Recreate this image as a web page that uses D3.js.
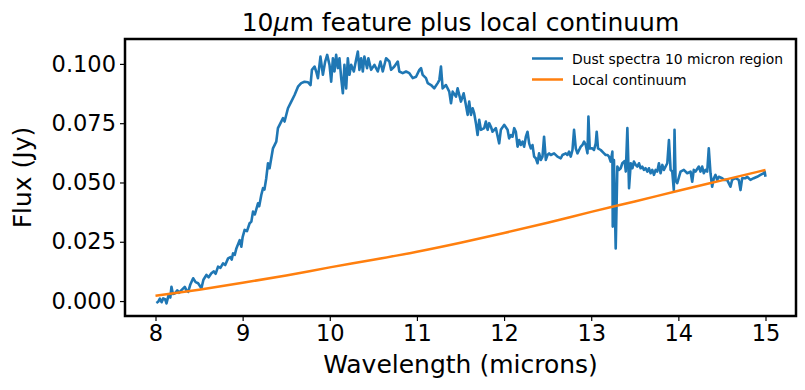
<!DOCTYPE html>
<html>
<head>
<meta charset="utf-8">
<script src="https://cdn.jsdelivr.net/npm/d3@7"></script>
<style>
  html, body { margin: 0; padding: 0; background: #fff; }
  svg { display: block; font-family: "DejaVu Sans", sans-serif; }
</style>
</head>
<body>
<svg id="chart" width="805" height="390"></svg>
<script>
// ---- Data ----
const xTicks = [8, 9, 10, 11, 12, 13, 14, 15];
const yTicks = [0.000, 0.025, 0.050, 0.075, 0.100];

const dustWavelength = [
  8.01, 8.03, 8.05, 8.07, 8.088, 8.11, 8.126, 8.15, 8.17, 8.183, 8.20, 8.221, 8.25, 8.27, 8.298, 8.336, 8.355, 8.375,
  8.40, 8.432, 8.46, 8.489, 8.527, 8.55, 8.584, 8.61, 8.641, 8.67, 8.69, 8.718, 8.745, 8.775, 8.80, 8.833, 8.86, 8.875,
  8.890, 8.91, 8.928, 8.966, 8.985, 9.00, 9.023, 9.05, 9.080, 9.10, 9.119, 9.14, 9.176, 9.19, 9.214, 9.234, 9.25, 9.271,
  9.291, 9.309, 9.348, 9.386, 9.405, 9.424, 9.463, 9.481, 9.520, 9.558, 9.596, 9.635, 9.672, 9.710, 9.749, 9.779,
  9.795, 9.825, 9.844, 9.864, 9.893, 9.921, 9.947, 9.970, 9.997, 10.016, 10.036, 10.054, 10.073, 10.093, 10.111,
  10.131, 10.150, 10.168, 10.188, 10.207, 10.226, 10.245, 10.276, 10.302, 10.322, 10.340, 10.360, 10.379, 10.397,
  10.428, 10.443, 10.474, 10.512, 10.551, 10.581, 10.608, 10.646, 10.684, 10.703, 10.741, 10.780, 10.798, 10.837,
  10.875, 10.913, 10.952, 10.990, 11.028, 11.047, 11.066, 11.104, 11.124, 11.162, 11.199, 11.238, 11.257, 11.276,
  11.295, 11.333, 11.371, 11.391, 11.410, 11.448, 11.467, 11.505, 11.536, 11.562, 11.582, 11.600, 11.620, 11.639,
  11.657, 11.677, 11.696, 11.715, 11.734, 11.772, 11.791, 11.811, 11.829, 11.849, 11.868, 11.906, 11.944, 11.963,
  12.001, 12.040, 12.058, 12.078, 12.097, 12.116, 12.135, 12.155, 12.173, 12.192, 12.212, 12.230, 12.250, 12.269,
  12.288, 12.307, 12.326, 12.345, 12.364, 12.384, 12.402, 12.422, 12.441, 12.459, 12.479, 12.498, 12.517, 12.536,
  12.574, 12.613, 12.651, 12.670, 12.708, 12.727, 12.746, 12.765, 12.785, 12.803, 12.823, 12.842, 12.861, 12.880,
  12.899, 12.918, 12.937, 12.957, 12.968, 12.983, 13.014, 13.032, 13.052, 13.063, 13.078, 13.109, 13.147, 13.166,
  13.186, 13.204, 13.223, 13.243, 13.247, 13.261, 13.281, 13.300, 13.319, 13.338, 13.357, 13.376, 13.384, 13.397,
  13.415, 13.434, 13.454, 13.473, 13.490, 13.510, 13.529, 13.548, 13.567, 13.586, 13.605, 13.624, 13.644, 13.662,
  13.682, 13.701, 13.720, 13.739, 13.758, 13.777, 13.796, 13.816, 13.834, 13.873, 13.892, 13.911, 13.930, 13.948,
  13.956, 13.968, 13.987, 14.025, 14.063, 14.102, 14.140, 14.159, 14.177, 14.197, 14.235, 14.254, 14.273, 14.292,
  14.312, 14.331, 14.349, 14.369, 14.388, 14.407, 14.426, 14.445, 14.464, 14.503, 14.521, 14.560, 14.598, 14.617,
  14.655, 14.693, 14.713, 14.732, 14.770, 14.789, 14.827, 14.865, 14.904, 14.942, 14.980, 14.99, 15.00
];
const dustFlux = [
  -0.0008, -0.0003, 0.0010, -0.0005, 0.0011, 0.0008, -0.0010, 0.0025, 0.0015, 0.0060, 0.0030, 0.0032, 0.0045, 0.0035, 0.0046, 0.0060, 0.0045, 0.0039,
  0.0070, 0.0096, 0.0080, 0.0075, 0.0054, 0.0090, 0.0110, 0.0100, 0.0117, 0.0125, 0.0115, 0.0145, 0.0140, 0.0159, 0.0152, 0.0180, 0.0185, 0.0175,
  0.0201, 0.0195, 0.0222, 0.0257, 0.0229, 0.0270, 0.0300, 0.0295, 0.0328, 0.0335, 0.0377, 0.0365, 0.0412, 0.0400, 0.0447, 0.0476, 0.0470, 0.0518,
  0.0581, 0.0560, 0.0644, 0.0672, 0.0729, 0.0743, 0.0771, 0.0757, 0.0813, 0.0841, 0.0869, 0.0904, 0.0919, 0.0925, 0.0923, 0.0911,
  0.0975, 0.0989, 0.0968, 0.0940, 0.1031, 0.0954, 0.1010, 0.1038, 0.0996, 0.0925, 0.1024, 0.0968, 0.1038, 0.0982, 0.1024,
  0.0940, 0.0876, 0.0996, 0.0897, 0.1024, 0.0954, 0.0996, 0.0968, 0.1017, 0.1052, 0.0975, 0.1024, 0.0968, 0.1031,
  0.0982, 0.1024, 0.0975, 0.0996, 0.0968, 0.1010, 0.0968, 0.1024, 0.1010, 0.0975, 0.0989, 0.1010, 0.0968, 0.0961,
  0.0968, 0.0961, 0.0940, 0.0946, 0.0975, 0.0982, 0.0954, 0.0940, 0.0919, 0.0911, 0.0897, 0.0919, 0.0932, 0.0989,
  0.0897, 0.0911, 0.0883, 0.0834, 0.0883, 0.0862, 0.0897, 0.0841, 0.0876, 0.0827, 0.0785, 0.0841, 0.0785, 0.0813,
  0.0792, 0.0750, 0.0700, 0.0764, 0.0722, 0.0729, 0.0757, 0.0722, 0.0750, 0.0735, 0.0714, 0.0729, 0.0665, 0.0722,
  0.0743, 0.0722, 0.0686, 0.0700, 0.0693, 0.0729, 0.0714, 0.0651, 0.0679, 0.0658, 0.0672, 0.0651, 0.0693, 0.0714,
  0.0665, 0.0644, 0.0658, 0.0609, 0.0602, 0.0581, 0.0623, 0.0595, 0.0609, 0.0693, 0.0595, 0.0616, 0.0623, 0.0616,
  0.0623, 0.0609, 0.0602, 0.0616, 0.0623, 0.0616, 0.0630, 0.0609, 0.0637, 0.0722, 0.0644, 0.0623, 0.0637, 0.0651,
  0.0658, 0.0672, 0.0658, 0.0623, 0.0778, 0.0644, 0.0644, 0.0637, 0.0665, 0.0714, 0.0644, 0.0637, 0.0623, 0.0616,
  0.0616, 0.0609, 0.0588, 0.0630, 0.0314, 0.0595, 0.0222, 0.0567, 0.0553, 0.0560, 0.0581, 0.0588, 0.0590, 0.0546,
  0.0729, 0.0476, 0.0581, 0.0560, 0.0588, 0.0574, 0.0567, 0.0581, 0.0560, 0.0567, 0.0553, 0.0560, 0.0546, 0.0560,
  0.0539, 0.0553, 0.0532, 0.0553, 0.0546, 0.0581, 0.0539, 0.0574, 0.0553, 0.0581, 0.0679, 0.0553, 0.0546, 0.0468,
  0.0722, 0.0511, 0.0497, 0.0546, 0.0553, 0.0539, 0.0546, 0.0503, 0.0553, 0.0546, 0.0567, 0.0546, 0.0567, 0.0539,
  0.0553, 0.0546, 0.0644, 0.0539, 0.0482, 0.0518, 0.0532, 0.0511, 0.0524, 0.0518, 0.0511, 0.0511, 0.0482, 0.0511,
  0.0518, 0.0511, 0.0468, 0.0518, 0.0518, 0.0524, 0.0511, 0.0518, 0.0524, 0.0532, 0.0539, 0.0546, 0.0524
];

const contWavelength = [8.0, 8.5, 9.0, 9.5, 10.0, 10.5, 11.0, 11.5, 12.0, 12.5, 13.0, 13.5, 14.0, 14.5, 15.0];
const contFlux = [0.0022, 0.0048, 0.0077, 0.0108, 0.0142, 0.0174, 0.0208, 0.0246, 0.0287, 0.0330, 0.0376, 0.0420, 0.0465, 0.0509, 0.0553];

const seriesNames = ["Dust spectra 10 micron region", "Local continuum"];
const seriesColors = ["#1f77b4", "#ff7f0e"];

// ---- Layout ----
const svg = d3.select("#chart");
const L = 125, R = 796, T = 39, B = 316;

const x = d3.scaleLinear().domain([7.65, 15.35]).range([L, R]);
const y = d3.scaleLinear().domain([-0.0063, 0.1105]).range([B, T]);

const dust = dustWavelength.map((w, i) => ({ w, f: dustFlux[i] }));
const cont = contWavelength.map((w, i) => ({ w, f: contFlux[i] }));

svg.append("rect").attr("width", 805).attr("height", 390).attr("fill", "#fff");

// lines
svg.append("path")
  .datum(dust)
  .attr("fill", "none")
  .attr("stroke", seriesColors[0])
  .attr("stroke-width", 2.6)
  .attr("stroke-linejoin", "round")
  .attr("stroke-linecap", "butt")
  .attr("d", d3.line().x(d => x(d.w)).y(d => y(d.f)));

svg.append("path")
  .datum(cont)
  .attr("fill", "none")
  .attr("stroke", seriesColors[1])
  .attr("stroke-width", 2.5)
  .attr("d", d3.line().curve(d3.curveMonotoneX).x(d => x(d.w)).y(d => y(d.f)));

// axes
const xAxis = svg.append("g")
  .attr("transform", `translate(0,${B})`)
  .call(d3.axisBottom(x).tickValues(xTicks).tickFormat(d3.format("d")).tickSize(5).tickPadding(4));
const yAxis = svg.append("g")
  .attr("transform", `translate(${L},0)`)
  .call(d3.axisLeft(y).tickValues(yTicks).tickFormat(d3.format(".3f")).tickSize(5).tickPadding(4));

[xAxis, yAxis].forEach(g => {
  g.select(".domain").remove();
  g.selectAll(".tick line").attr("stroke", "#000").attr("stroke-width", 1.2);
  g.selectAll(".tick text")
    .attr("fill", "#000")
    .style("font-family", "'DejaVu Sans', sans-serif")
    .style("font-size", "22.5px");
});

// frame
svg.append("rect")
  .attr("x", L).attr("y", T)
  .attr("width", R - L).attr("height", B - T)
  .attr("fill", "none")
  .attr("stroke", "#000")
  .attr("stroke-width", 2.5);

// title
const title = svg.append("text")
  .attr("x", (L + R) / 2).attr("y", 31)
  .attr("text-anchor", "middle")
  .style("font-size", "25px")
  .attr("fill", "#000");
title.append("tspan").text("10");
title.append("tspan").attr("font-style", "italic").text("μ");
title.append("tspan").text("m feature plus local continuum");

// axis labels
svg.append("text")
  .attr("x", (L + R) / 2).attr("y", 373)
  .attr("text-anchor", "middle")
  .style("font-size", "25px")
  .attr("fill", "#000")
  .text("Wavelength (microns)");

svg.append("text")
  .attr("transform", `translate(31,${(T + B) / 2}) rotate(-90)`)
  .attr("text-anchor", "middle")
  .style("font-size", "25px")
  .attr("fill", "#000")
  .text("Flux (Jy)");

// legend
const legend = svg.append("g");
seriesNames.forEach((name, i) => {
  const cy = 58.5 + i * 21;
  legend.append("line")
    .attr("x1", 532).attr("x2", 563)
    .attr("y1", cy).attr("y2", cy)
    .attr("stroke", seriesColors[i])
    .attr("stroke-width", 2.5);
  legend.append("text")
    .attr("x", 572).attr("y", cy + 5)
    .style("font-size", "13.9px")
    .attr("fill", "#000")
    .text(name);
});
</script>
</body>
</html>
